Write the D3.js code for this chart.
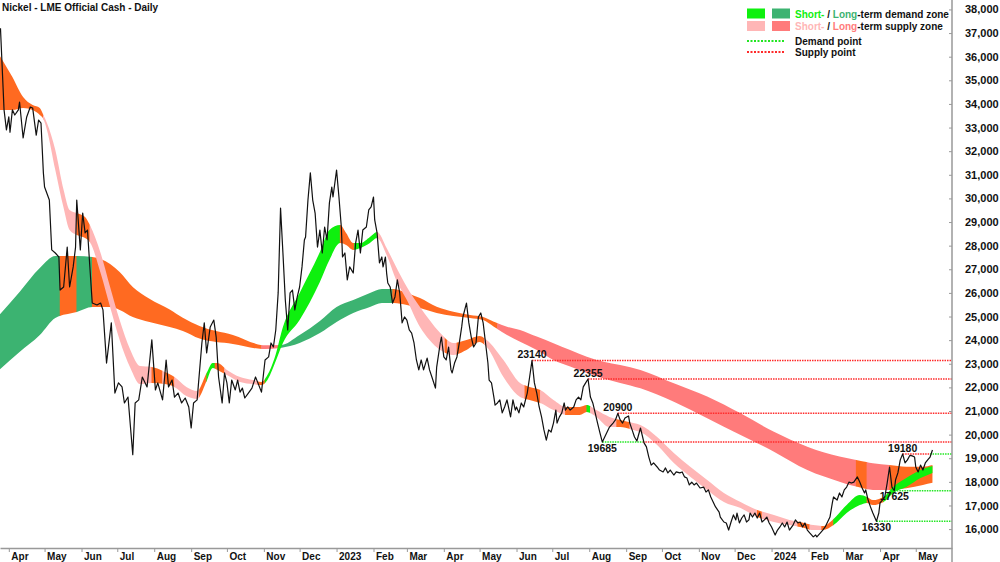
<!DOCTYPE html>
<html>
<head>
<meta charset="utf-8">
<script src="https://cdn.jsdelivr.net/npm/d3@7"></script>
<style>
body { margin: 0; background: #fff; }
svg { display: block; font-family: "Liberation Sans", Arial, sans-serif; font-weight: bold; }
</style>
</head>
<body>
<svg id="chart" width="1000" height="562"></svg>
<script>
// LME nickel official cash, daily closes
const price = [
  ["2022-03-25",37200],["2022-03-28",33750],["2022-03-30",32900],["2022-04-01",33450],["2022-04-02",32800],
  ["2022-04-04",33750],["2022-04-06",33530],["2022-04-09",33750],["2022-04-10",34080],["2022-04-13",32560],
  ["2022-04-16",33450],["2022-04-19",33870],["2022-04-21",33830],["2022-04-24",32680],["2022-04-26",33320],
  ["2022-04-28",33190],["2022-04-30",31080],["2022-05-01",30480],["2022-05-05",29930],["2022-05-07",27820],
  ["2022-05-10",27690],["2022-05-13",27520],["2022-05-14",26120],["2022-05-17",26250],["2022-05-20",27940],
  ["2022-05-22",26250],["2022-05-25",27100],["2022-05-27",27940],["2022-05-28",29930],["2022-05-31",27820],
  ["2022-06-02",29380],["2022-06-04",28540],["2022-06-06",28660],["2022-06-08",27100],["2022-06-10",25570],
  ["2022-06-14",25490],["2022-06-17",25570],["2022-06-19",25280],["2022-06-22",23030],["2022-06-26",24730],
  ["2022-06-29",21760],["2022-07-02",22190],["2022-07-05",22020],["2022-07-07",21340],["2022-07-10",21590],
  ["2022-07-14",19150],["2022-07-16",21340],["2022-07-19",21470],["2022-07-22",22440],["2022-07-26",22020],
  ["2022-07-30",24010],["2022-08-02",21890],["2022-08-04",22190],["2022-08-08",21470],["2022-08-11",23160],
  ["2022-08-13",22020],["2022-08-16",22310],["2022-08-18",21590],["2022-08-21",21760],["2022-08-24",21340],
  ["2022-08-27",21550],["2022-08-30",21170],["2022-09-01",20280],["2022-09-03",21340],["2022-09-06",21470],
  ["2022-09-10",23880],["2022-09-12",24730],["2022-09-14",23460],["2022-09-17",24560],["2022-09-20",24850],
  ["2022-09-22",24130],["2022-09-24",22440],["2022-09-27",21340],["2022-09-29",22610],["2022-10-01",22190],
  ["2022-10-03",21340],["2022-10-05",22310],["2022-10-08",21890],["2022-10-10",22310],["2022-10-12",21800],
  ["2022-10-14",21970],["2022-10-16",21550],["2022-10-19",21760],["2022-10-22",21970],["2022-10-25",22440],
  ["2022-10-27",22190],["2022-10-30",21800],["2022-11-02",23160],["2022-11-05",23290],["2022-11-07",23880],
  ["2022-11-09",23710],["2022-11-11",24430],["2022-11-13",26000],["2022-11-15",29590],["2022-11-17",27690],
  ["2022-11-19",25700],["2022-11-21",24430],["2022-11-23",26000],["2022-11-25",26120],["2022-11-27",25280],
  ["2022-11-29",25830],["2022-12-01",26250],["2022-12-03",27100],["2022-12-05",28240],["2022-12-06",28370],
  ["2022-12-08",29930],["2022-12-10",31080],["2022-12-12",29930],["2022-12-14",29380],["2022-12-16",27940],
  ["2022-12-18",28660],["2022-12-20",27690],["2022-12-22",28790],["2022-12-24",28240],["2022-12-26",29810],
  ["2022-12-28",30480],["2022-12-29",30060],["2023-01-01",31200],["2023-01-03",30060],["2023-01-05",28790],
  ["2023-01-06",27520],["2023-01-08",27690],["2023-01-10",26550],["2023-01-12",27100],["2023-01-15",26840],
  ["2023-01-17",28110],["2023-01-19",28660],["2023-01-21",27690],["2023-01-23",28660],["2023-01-26",28790],
  ["2023-01-28",29510],["2023-01-30",29640],["2023-02-01",30060],["2023-02-02",29090],["2023-02-04",28540],
  ["2023-02-06",27270],["2023-02-08",27520],["2023-02-09",27100],["2023-02-11",27520],["2023-02-12",26840],
  ["2023-02-13",26420],["2023-02-15",26250],["2023-02-17",25570],["2023-02-19",25830],["2023-02-21",26550],
  ["2023-02-23",26000],["2023-02-25",24730],["2023-02-27",24980],["2023-03-01",24850],["2023-03-03",24430],
  ["2023-03-05",24300],["2023-03-07",23880],["2023-03-09",23160],["2023-03-11",22740],["2023-03-13",23160],
  ["2023-03-15",22740],["2023-03-18",23240],["2023-03-20",22740],["2023-03-22",22440],["2023-03-25",21970],
  ["2023-03-26",22860],["2023-03-29",23880],["2023-03-30",24130],["2023-04-01",23290],["2023-04-03",23160],
  ["2023-04-05",23710],["2023-04-07",22740],["2023-04-08",22610],["2023-04-10",23030],["2023-04-12",23290],
  ["2023-04-14",23880],["2023-04-16",24560],["2023-04-17",24980],["2023-04-20",25570],["2023-04-22",24730],
  ["2023-04-24",24130],["2023-04-26",23710],["2023-04-28",23880],["2023-04-30",24980],["2023-05-02",25150],
  ["2023-05-04",24730],["2023-05-06",23880],["2023-05-08",23030],["2023-05-09",22310],["2023-05-11",22190],
  ["2023-05-13",21590],["2023-05-14",21250],["2023-05-16",21340],["2023-05-18",21470],["2023-05-20",20920],
  ["2023-05-22",21170],["2023-05-24",21470],["2023-05-27",20750],["2023-05-29",21470],["2023-05-31",21040],
  ["2023-06-01",21170],["2023-06-03",20920],["2023-06-05",21340],["2023-06-07",21170],["2023-06-10",21760],
  ["2023-06-12",22440],["2023-06-14",23140],["2023-06-16",22190],["2023-06-18",21760],["2023-06-20",21170],
  ["2023-06-22",20750],["2023-06-24",20200],["2023-06-26",19770],["2023-06-28",20200],["2023-06-30",20110],
  ["2023-07-02",20490],["2023-07-04",21040],["2023-07-05",20490],["2023-07-07",20750],["2023-07-09",20920],
  ["2023-07-11",21340],["2023-07-12",21040],["2023-07-14",21170],["2023-07-16",21040],["2023-07-19",21170],
  ["2023-07-21",21470],["2023-07-23",21590],["2023-07-25",21470],["2023-07-27",22020],["2023-07-29",22190],
  ["2023-07-31",22355],["2023-08-02",21590],["2023-08-04",21340],["2023-08-06",20920],["2023-08-08",20490],
  ["2023-08-10",20070],["2023-08-12",19685],["2023-08-14",19900],["2023-08-16",20110],["2023-08-18",20320],
  ["2023-08-21",20490],["2023-08-23",20620],["2023-08-25",20900],["2023-08-27",20620],["2023-08-29",20490],
  ["2023-08-31",20700],["2023-09-03",20790],["2023-09-04",20490],["2023-09-06",20200],["2023-09-08",19900],
  ["2023-09-10",19730],["2023-09-13",20280],["2023-09-16",19650],["2023-09-18",19480],["2023-09-20",19050],
  ["2023-09-22",18710],["2023-09-24",18800],["2023-09-27",18630],["2023-09-29",18500],["2023-10-02",18420],
  ["2023-10-04",18590],["2023-10-06",18380],["2023-10-08",18500],["2023-10-11",18290],["2023-10-13",18420],
  ["2023-10-16",18380],["2023-10-18",18420],["2023-10-20",18210],["2023-10-22",18160],["2023-10-24",17870],
  ["2023-10-26",17990],["2023-10-28",17870],["2023-10-30",17950],["2023-11-02",17740],["2023-11-05",17780],
  ["2023-11-07",17570],["2023-11-09",17660],["2023-11-11",17360],["2023-11-13",17150],["2023-11-15",16940],
  ["2023-11-18",16720],["2023-11-19",16510],["2023-11-22",16300],["2023-11-24",16260],["2023-11-26",15960],
  ["2023-11-28",16300],["2023-11-30",16600],["2023-12-02",16390],["2023-12-03",16680],["2023-12-05",16260],
  ["2023-12-07",16470],["2023-12-09",16600],["2023-12-11",16300],["2023-12-13",16390],["2023-12-14",16680],
  ["2023-12-16",16510],["2023-12-18",16680],["2023-12-20",16470],["2023-12-22",16680],["2023-12-24",16300],
  ["2023-12-26",16390],["2023-12-28",16510],["2023-12-30",16260],["2024-01-01",16090],["2024-01-04",15750],
  ["2024-01-06",15960],["2024-01-08",16090],["2024-01-10",16260],["2024-01-12",16090],["2024-01-14",16300],
  ["2024-01-16",15960],["2024-01-19",16170],["2024-01-21",16390],["2024-01-23",16260],["2024-01-25",16300],
  ["2024-01-27",16090],["2024-01-29",16260],["2024-01-31",15960],["2024-02-02",15840],["2024-02-05",15670],
  ["2024-02-07",15750],["2024-02-08",15670],["2024-02-11",15840],["2024-02-13",15960],["2024-02-15",16090],
  ["2024-02-17",16300],["2024-02-19",16510],["2024-02-21",17110],["2024-02-22",17360],["2024-02-25",17230],
  ["2024-02-27",17530],["2024-02-29",17360],["2024-03-02",17660],["2024-03-04",17780],["2024-03-06",17990],
  ["2024-03-08",17950],["2024-03-10",17990],["2024-03-13",18210],["2024-03-15",17990],["2024-03-17",17740],
  ["2024-03-19",17530],["2024-03-20",17660],["2024-03-22",17230],["2024-03-24",16940],["2024-03-26",16680],
  ["2024-03-29",16330],["2024-03-31",16680],["2024-04-01",17110],["2024-04-03",17230],["2024-04-05",17360],
  ["2024-04-07",17950],["2024-04-09",18630],["2024-04-11",17780],["2024-04-13",17625],["2024-04-14",18080],
  ["2024-04-16",18380],["2024-04-18",18930],["2024-04-20",19180],["2024-04-22",18800],["2024-04-24",18930],
  ["2024-04-26",19120],["2024-04-28",19100],["2024-04-30",19050],["2024-05-01",18630],["2024-05-03",18420],
  ["2024-05-05",18710],["2024-05-07",18500],["2024-05-09",18800],["2024-05-11",18930],["2024-05-13",19050],
  ["2024-05-15",19350]
];

// short-term zone: date, upper, lower
const shortBand = [
  ["2022-03-24",36070,33740],["2022-04-04",35140,33740],["2022-04-13",34290,33830],["2022-04-21",33950,33740],
  ["2022-04-27",33830,33530],["2022-04-30",33530,33360],["2022-05-03",33190,32900],["2022-05-10",32050,31200],
  ["2022-05-17",30360,29590],["2022-05-22",29510,28660],["2022-05-28",29380,28450],["2022-06-04",29210,28320],
  ["2022-06-08",28870,28150],["2022-06-17",27690,26840],["2022-06-25",26250,25400],["2022-07-03",24850,24010],
  ["2022-07-12",23580,22820],["2022-07-20",22900,22140],["2022-07-30",22860,22190],["2022-08-10",22650,22140],
  ["2022-08-18",22440,22020],["2022-08-28",22020,21630],["2022-09-06",21850,21510],["2022-09-14",22610,22270],
  ["2022-09-19",23030,22820],["2022-09-23",23030,22740],["2022-10-01",22740,22520],["2022-10-12",22440,22230],
  ["2022-10-23",22310,22140],["2022-10-30",22230,22100],["2022-11-04",22520,22310],["2022-11-10",23240,22990],
  ["2022-11-17",24560,23880],["2022-12-01",26000,24850],["2022-12-18",27730,26460],["2022-12-26",28660,27390],
  ["2023-01-04",28870,28110],["2023-01-09",28540,28030],["2023-01-15",28110,27820],["2023-01-21",28110,27900],
  ["2023-01-29",28370,28110],["2023-02-04",28580,28320],["2023-02-12",27900,27600],["2023-02-20",27100,26550],
  ["2023-03-01",26250,25700],["2023-03-12",25400,24560],["2023-03-20",24850,24010],["2023-03-29",24300,23580],
  ["2023-04-09",23880,23370],["2023-04-20",24010,23580],["2023-05-01",24180,23920],["2023-05-07",24010,23710],
  ["2023-05-21",23160,22440],["2023-06-04",22190,21590],["2023-06-12",22020,21470],["2023-06-21",21890,21340],
  ["2023-07-02",21470,21040],["2023-07-13",21170,20830],["2023-07-24",21170,20830],["2023-07-30",21250,20960],
  ["2023-08-07",21040,20750],["2023-08-18",20750,20320],["2023-08-27",20620,20320],["2023-09-07",20490,20200],
  ["2023-09-13",20410,20110],["2023-09-27",19900,19560],["2023-10-11",19220,18800],["2023-10-25",18630,18210],
  ["2023-11-08",18080,17660],["2023-11-22",17530,17150],["2023-12-06",17150,16890],["2023-12-20",16810,16510],
  ["2024-01-03",16600,16300],["2024-01-16",16390,16170],["2024-01-25",16300,16090],["2024-02-05",16170,15960],
  ["2024-02-13",16130,15960],["2024-02-22",16430,16170],["2024-03-04",17020,16680],["2024-03-15",17440,17020],
  ["2024-03-21",17360,17110],["2024-03-26",17230,17020],["2024-04-04",17360,17150],["2024-04-12",17780,17530],
  ["2024-04-23",18160,17780],["2024-05-05",18500,18160],["2024-05-15",18670,18380]
];

// long-term zone: date, upper, lower
const longBand = [
  ["2022-03-24",25060,22740],["2022-04-10",26040,23500],["2022-04-27",27050,24220],["2022-05-10",27560,24940],
  ["2022-05-28",27560,25190],["2022-06-10",27520,25400],["2022-06-25",27220,25400],["2022-07-03",26880,25280],
  ["2022-07-14",26250,24980],["2022-07-28",25750,24770],["2022-08-14",25300,24560],["2022-08-25",24950,24390],
  ["2022-09-08",24600,24070],["2022-10-06",24220,23840],["2022-11-02",23780,23620],["2022-11-15",23790,23670],
  ["2022-12-01",24220,23880],["2022-12-18",24810,24300],["2023-01-01",25400,24770],["2023-01-15",25700,25150],
  ["2023-01-29",26000,25400],["2023-02-08",26170,25570],["2023-02-18",26170,25570],["2023-03-01",26000,25490],
  ["2023-03-12",25780,25360],["2023-03-26",25415,25150],["2023-04-09",25200,25020],["2023-04-23",25060,24940],
  ["2023-05-04",24980,24850],["2023-05-13",24780,24570],["2023-05-24",24570,24220],["2023-06-04",24430,23930],
  ["2023-06-18",24150,23580],["2023-07-02",23870,23160],["2023-07-16",23580,22880],["2023-07-30",23300,22610],
  ["2023-08-13",23090,22380],["2023-08-27",22950,22190],["2023-09-13",22740,21960],["2023-10-11",22170,21390],
  ["2023-11-08",21610,20690],["2023-12-06",20900,19980],["2024-01-03",20120,19280],["2024-01-31",19490,18500],
  ["2024-02-27",19070,18010],["2024-03-12",18930,17800],["2024-03-26",18790,17660],["2024-04-09",18710,17660],
  ["2024-04-23",18640,17730],["2024-05-07",18640,17870],["2024-05-15",18710,17960]
];

// zone state by period: demand / supply / neutral
const shortZones = [
  ["2022-03-24","2022-04-30","neutral"],["2022-04-30","2022-05-28","supply"],["2022-05-28","2022-06-08","neutral"],
  ["2022-06-08","2022-07-30","supply"],["2022-07-30","2022-08-08","neutral"],["2022-08-08","2022-08-10","supply"],
  ["2022-08-10","2022-08-18","neutral"],["2022-08-18","2022-09-08","supply"],["2022-09-08","2022-09-14","neutral"],
  ["2022-09-14","2022-09-21","demand"],["2022-09-21","2022-09-29","neutral"],["2022-09-29","2022-10-27","supply"],
  ["2022-10-27","2022-11-02","neutral"],["2022-11-02","2023-01-04","demand"],["2023-01-04","2023-01-16","neutral"],
  ["2023-01-16","2023-02-04","demand"],["2023-02-04","2023-04-02","supply"],["2023-04-02","2023-04-04","neutral"],
  ["2023-04-04","2023-04-12","supply"],["2023-04-12","2023-05-05","neutral"],["2023-05-05","2023-06-08","supply"],
  ["2023-06-08","2023-06-21","neutral"],["2023-06-21","2023-07-12","supply"],["2023-07-12","2023-07-30","neutral"],
  ["2023-07-30","2023-08-02","demand"],["2023-08-02","2023-08-24","supply"],["2023-08-24","2023-09-04","neutral"],
  ["2023-09-04","2023-12-20","supply"],["2023-12-20","2023-12-24","neutral"],["2023-12-24","2024-01-23","supply"],
  ["2024-01-23","2024-02-02","neutral"],["2024-02-02","2024-02-12","supply"],["2024-02-12","2024-02-22","neutral"],
  ["2024-02-22","2024-03-21","demand"],["2024-03-21","2024-04-04","neutral"],["2024-04-04","2024-05-31","demand"]
];
const longZones = [
  ["2022-03-24","2022-05-14","demand"],["2022-05-14","2022-05-28","neutral"],["2022-05-28","2022-06-10","demand"],
  ["2022-06-10","2022-10-30","neutral"],["2022-10-30","2022-11-14","supply"],["2022-11-14","2023-02-17","demand"],
  ["2023-02-17","2023-05-16","neutral"],["2023-05-16","2024-03-12","supply"],["2024-03-12","2024-03-21","neutral"],
  ["2024-03-21","2024-04-09","supply"],["2024-04-09","2024-05-31","neutral"]
];

// turning points: date, value, high/low, date the level was broken
const levels = [
  ["2023-06-14",23140,"high",null],
  ["2023-07-31",22355,"high",null],
  ["2023-08-12",19685,"low","2023-09-15"],
  ["2023-08-25",20900,"high",null],
  ["2024-03-29",16330,"low",null],
  ["2024-04-13",17625,"low",null],
  ["2024-04-20",19180,"high","2024-05-13"]
];

const yTicks = [16000,17000,18000,19000,20000,21000,22000,23000,24000,25000,26000,27000,
  28000,29000,30000,31000,32000,33000,34000,35000,36000,37000,38000];

const shortColors = { demand: "#0ef00e", supply: "#ffb6b6", neutral: "#ff6a21" };
const longColors = { demand: "#3cb371", supply: "#ff7b7b", neutral: "#ff6a21" };
const demandLine = "#22e622", supplyLine = "#ff2a2a";

const parse = d3.timeParse("%Y-%m-%d");
const svg = d3.select("#chart");
const plotW = 952, plotH = 548;

const x = d3.scaleTime()
  .domain([new Date(2022, 2, 24, 14, 24), new Date(2024, 4, 31, 9, 36)])
  .range([0, plotW]);
const y = d3.scaleLinear().domain([15200, 38400]).range([plotH, 0]);

const defs = svg.append("defs");
defs.append("clipPath").attr("id", "plotClip")
  .append("rect").attr("width", plotW).attr("height", plotH);

const plot = svg.append("g").attr("clip-path", "url(#plotClip)");

function drawBand(band, zones, colors, id) {
  const rows = band.map(d => ({ date: parse(d[0]), hi: d[1], lo: d[2] }));
  const area = d3.area()
    .x(d => x(d.date))
    .y0(d => y(d.lo))
    .y1(d => y(d.hi))
    .curve(d3.curveMonotoneX);
  zones.forEach((z, i) => {
    const x0 = x(parse(z[0])), x1 = x(parse(z[1]));
    defs.append("clipPath").attr("id", id + i)
      .append("rect")
      .attr("x", x0 - 0.3).attr("width", x1 - x0 + 0.6)
      .attr("y", 0).attr("height", plotH);
    plot.append("path")
      .datum(rows)
      .attr("d", area)
      .attr("fill", colors[z[2]])
      .attr("clip-path", `url(#${id + i})`);
  });
}

drawBand(longBand, longZones, longColors, "lz");
drawBand(shortBand, shortZones, shortColors, "sz");

// dotted level lines
levels.forEach(l => {
  const start = x(parse(l[0]));
  const brk = l[3] ? x(parse(l[3])) : plotW;
  const first = l[2] === "high" ? supplyLine : demandLine;
  const second = l[2] === "high" ? demandLine : supplyLine;
  plot.append("line")
    .attr("x1", start).attr("x2", brk)
    .attr("y1", y(l[1])).attr("y2", y(l[1]))
    .attr("stroke", first).attr("stroke-width", 1.5)
    .attr("stroke-dasharray", "1.5,1");
  if (l[3]) {
    plot.append("line")
      .attr("x1", brk).attr("x2", plotW)
      .attr("y1", y(l[1])).attr("y2", y(l[1]))
      .attr("stroke", second).attr("stroke-width", 1.5)
      .attr("stroke-dasharray", "1.5,1");
  }
});

const line = d3.line()
  .x(d => x(parse(d[0])))
  .y(d => y(d[1]));

plot.append("path")
  .datum(price)
  .attr("d", line)
  .attr("fill", "none")
  .attr("stroke", "#111")
  .attr("stroke-width", 1.2)
  .attr("stroke-linejoin", "round");

// point labels
svg.append("g").selectAll("text")
  .data(levels)
  .enter()
  .append("text")
  .attr("x", d => x(parse(d[0])))
  .attr("y", d => d[2] === "high" ? y(d[1]) - 2 : y(d[1]) + 9.5)
  .attr("text-anchor", "middle")
  .attr("font-size", "10.5px")
  .attr("fill", "#111")
  .text(d => d[1]);

// x axis
const months = d3.timeMonth.range(new Date(2022, 3, 1), new Date(2024, 5, 1));
const xAxis = svg.append("g")
  .attr("transform", `translate(0,${plotH})`)
  .call(d3.axisBottom(x)
    .tickValues(months)
    .tickSizeInner(4)
    .tickSizeOuter(0)
    .tickFormat(d => d.getMonth() === 0 ? d3.timeFormat("%Y")(d) : d3.timeFormat("%b")(d)));
xAxis.select(".domain").attr("stroke", "#999").attr("stroke-width", 1.5);
xAxis.selectAll(".tick line").attr("stroke", "#999");
xAxis.selectAll(".tick text")
  .attr("text-anchor", "start")
  .attr("x", 2)
  .attr("y", 5)
  .attr("fill", "#111")
  .attr("font-size", "10px")
  .attr("font-family", null);

// y axis on the right
const yAxis = svg.append("g")
  .attr("transform", `translate(${plotW},0)`)
  .call(d3.axisRight(y)
    .tickValues(yTicks)
    .tickSizeInner(-3)
    .tickSizeOuter(0)
    .tickPadding(13)
    .tickFormat(d3.format(",")));
yAxis.select(".domain").remove();
yAxis.selectAll(".tick line").attr("stroke", "#999");
yAxis.selectAll(".tick text")
  .attr("fill", "#111")
  .attr("font-size", "11px")
  .attr("font-family", null);
svg.append("line")
  .attr("x1", plotW).attr("x2", plotW)
  .attr("y1", 0).attr("y2", 562)
  .attr("stroke", "#999").attr("stroke-width", 1.5);

// title
svg.append("text")
  .attr("x", 2).attr("y", 11)
  .attr("font-size", "10px")
  .attr("fill", "#111")
  .text("Nickel - LME Official Cash - Daily");

// legend
const legend = svg.append("g").attr("font-size", "10px");
const zoneRows = [
  { y: 8.5, s: shortColors.demand, l: longColors.demand, word: "-term demand zone" },
  { y: 21, s: shortColors.supply, l: longColors.supply, word: "-term supply zone" }
];
zoneRows.forEach(r => {
  legend.append("rect").attr("x", 747).attr("y", r.y).attr("width", 18).attr("height", 10).attr("fill", r.s);
  legend.append("rect").attr("x", 772).attr("y", r.y).attr("width", 18).attr("height", 10).attr("fill", r.l);
  const t = legend.append("text").attr("x", 795).attr("y", r.y + 9);
  t.append("tspan").attr("fill", r.s).text("Short-");
  t.append("tspan").attr("fill", "#111").text(" / ");
  t.append("tspan").attr("fill", r.l).text("Long");
  t.append("tspan").attr("fill", "#111").text(r.word);
});
const pointRows = [
  { y: 41, c: demandLine, label: "Demand point" },
  { y: 52, c: supplyLine, label: "Supply point" }
];
pointRows.forEach(r => {
  legend.append("line")
    .attr("x1", 747).attr("x2", 785).attr("y1", r.y).attr("y2", r.y)
    .attr("stroke", r.c).attr("stroke-width", 2).attr("stroke-dasharray", "2,1.5");
  legend.append("text").attr("x", 795).attr("y", r.y + 3.5).attr("fill", "#111").text(r.label);
});
</script>
</body>
</html>
